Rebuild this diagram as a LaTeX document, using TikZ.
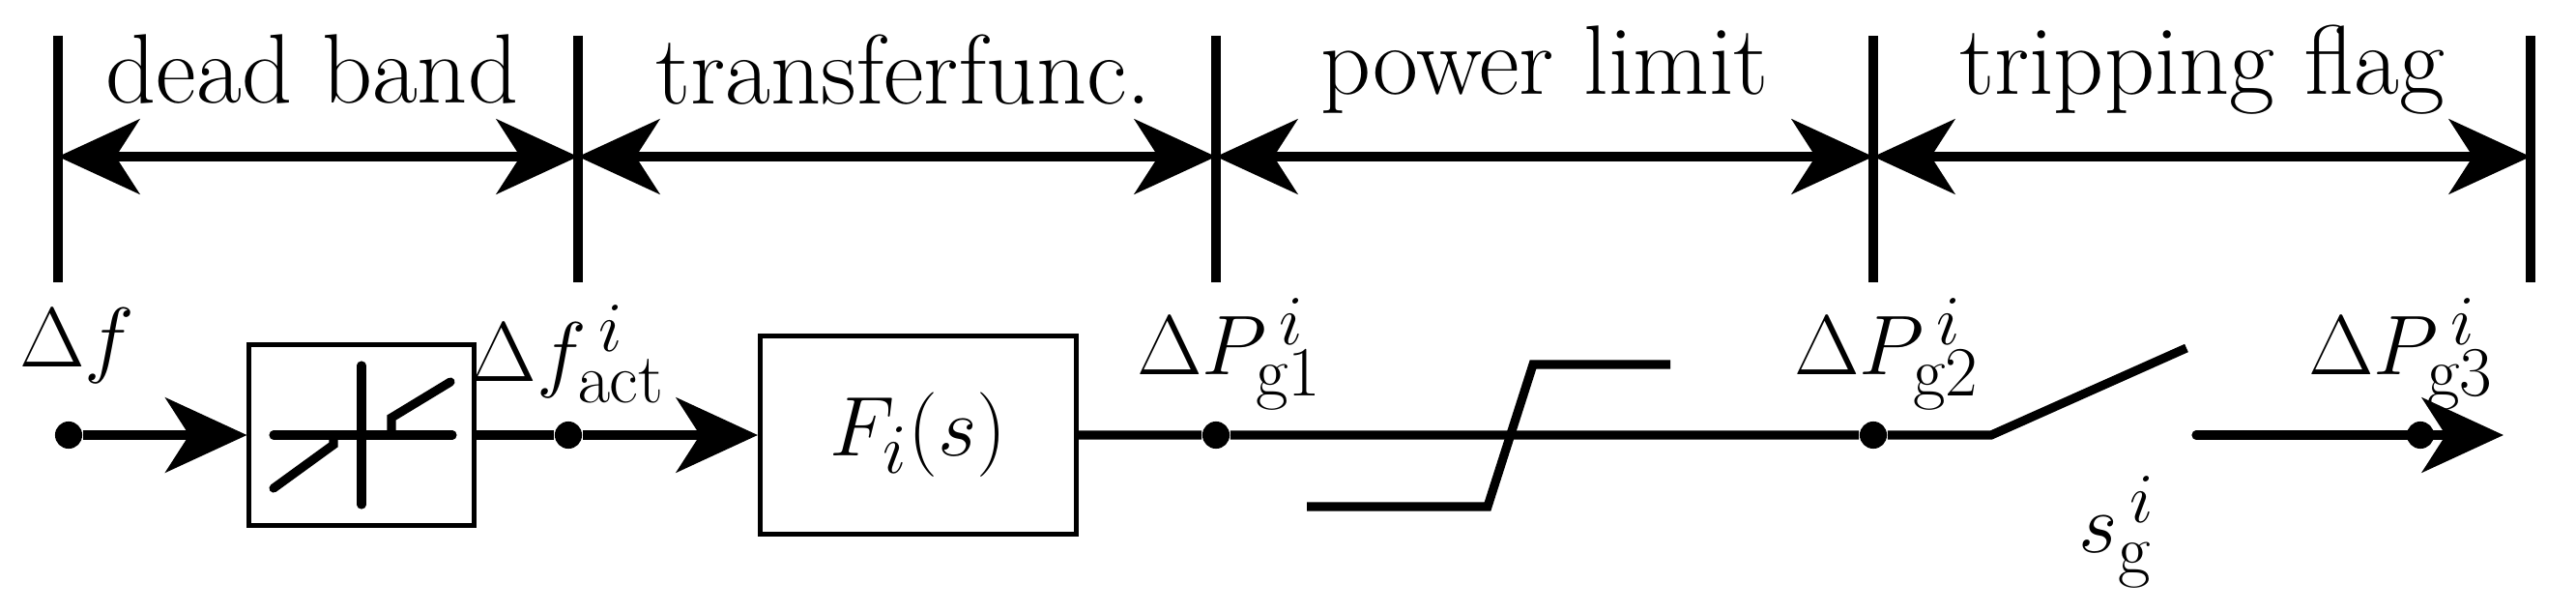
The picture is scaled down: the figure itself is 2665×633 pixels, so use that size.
\documentclass[tikz,border=0pt]{standalone}
\usetikzlibrary{arrows.meta}
\begin{document}
\begin{tikzpicture}[x=0.01cm,y=-0.01cm,
  font=\fontsize{29}{33}\selectfont,
  thick/.style={line width=2.6pt},
  tip/.style={-{Stealth[length=24pt,width=22pt,inset=7pt]}},
  dtip/.style={{Stealth[length=24pt,width=22pt,inset=7pt]}-{Stealth[length=24pt,width=22pt,inset=7pt]}},
  blk/.style={draw,line width=1.4pt,inner sep=0pt},
  dot/.style={circle,fill,inner sep=0pt,minimum size=8pt}]
\useasboundingbox (0,0) rectangle (2665,633);
% ticks
\foreach \n/\x in {t0/60,t1/598,t2/1258,t3/1938,t4/2618}{
  \draw[thick] (\x,37) -- (\x,292);
  \coordinate (\n) at (\x,162);}
\draw[thick,dtip] (t0) -- (t1);
\draw[thick,dtip] (t1) -- (t2);
\draw[thick,dtip] (t2) -- (t3);
\draw[thick,dtip] (t3) -- (t4);
\node (l1) at (323,72) {dead band};
\node (l2) at (935,72) {transferfunc.};
\node (l3) at (1598,72) {power limit};
\node (l4) at (2278,72) {tripping flag};
% blocks
\node[blk,minimum width=2.32cm,minimum height=1.87cm] (db) at (374,450) {};
\node[blk,minimum width=3.27cm,minimum height=2.04cm] (F) at (950,450) {$F_i(s)$};
% dead band glyph
\draw[thick,line cap=round] (283,450) -- (468,450);
\draw[thick,line cap=round] (374,378) -- (374,522);
\draw[thick,line cap=round] (283,505) -- (345,460) -- (345,450);
\draw[thick,line cap=round] (405,450) -- (405,432) -- (466,395);
% nodes on line
\node[dot] (d0) at (71,450) {};
\node[dot] (d1) at (588,450) {};
\node[dot] (d2) at (1258,450) {};
\node[dot] (d3) at (1938,450) {};
\node[dot] (d4) at (2504,450) {};
\coordinate (e) at (2590,450);
\coordinate (sw) at (2060,450);
\coordinate (swe) at (2262,360);
\coordinate (r) at (2272,450);
\draw[thick,tip] (d0) -- (db.west);
\draw[thick] (db.east) -- (d1);
\draw[thick,tip] (d1) -- (F.west);
\draw[thick] (F.east) -- (d2) -- (d3) -- (sw) -- (swe);
\draw[thick,tip,line cap=round] (r) -- (e);
% saturation
\draw[thick] (1352,524) -- (1539,524) -- (1586,377) -- (1728,377);
% labels
\node (a) at (80,358) {$\Delta f$};
\node (b) at (588,366) {$\Delta f^{\,i}_{\mathrm{act}}$};
\node (c) at (1272,366) {$\Delta P^{\,i}_{\mathrm{g1}}$};
\node (d) at (1952,366) {$\Delta P^{\,i}_{\mathrm{g2}}$};
\node (g) at (2484,366) {$\Delta P^{\,i}_{\mathrm{g3}}$};
\node (s) at (2190,550) {$s^{\,i}_{\mathrm{g}}$};
\end{tikzpicture}
\end{document}
